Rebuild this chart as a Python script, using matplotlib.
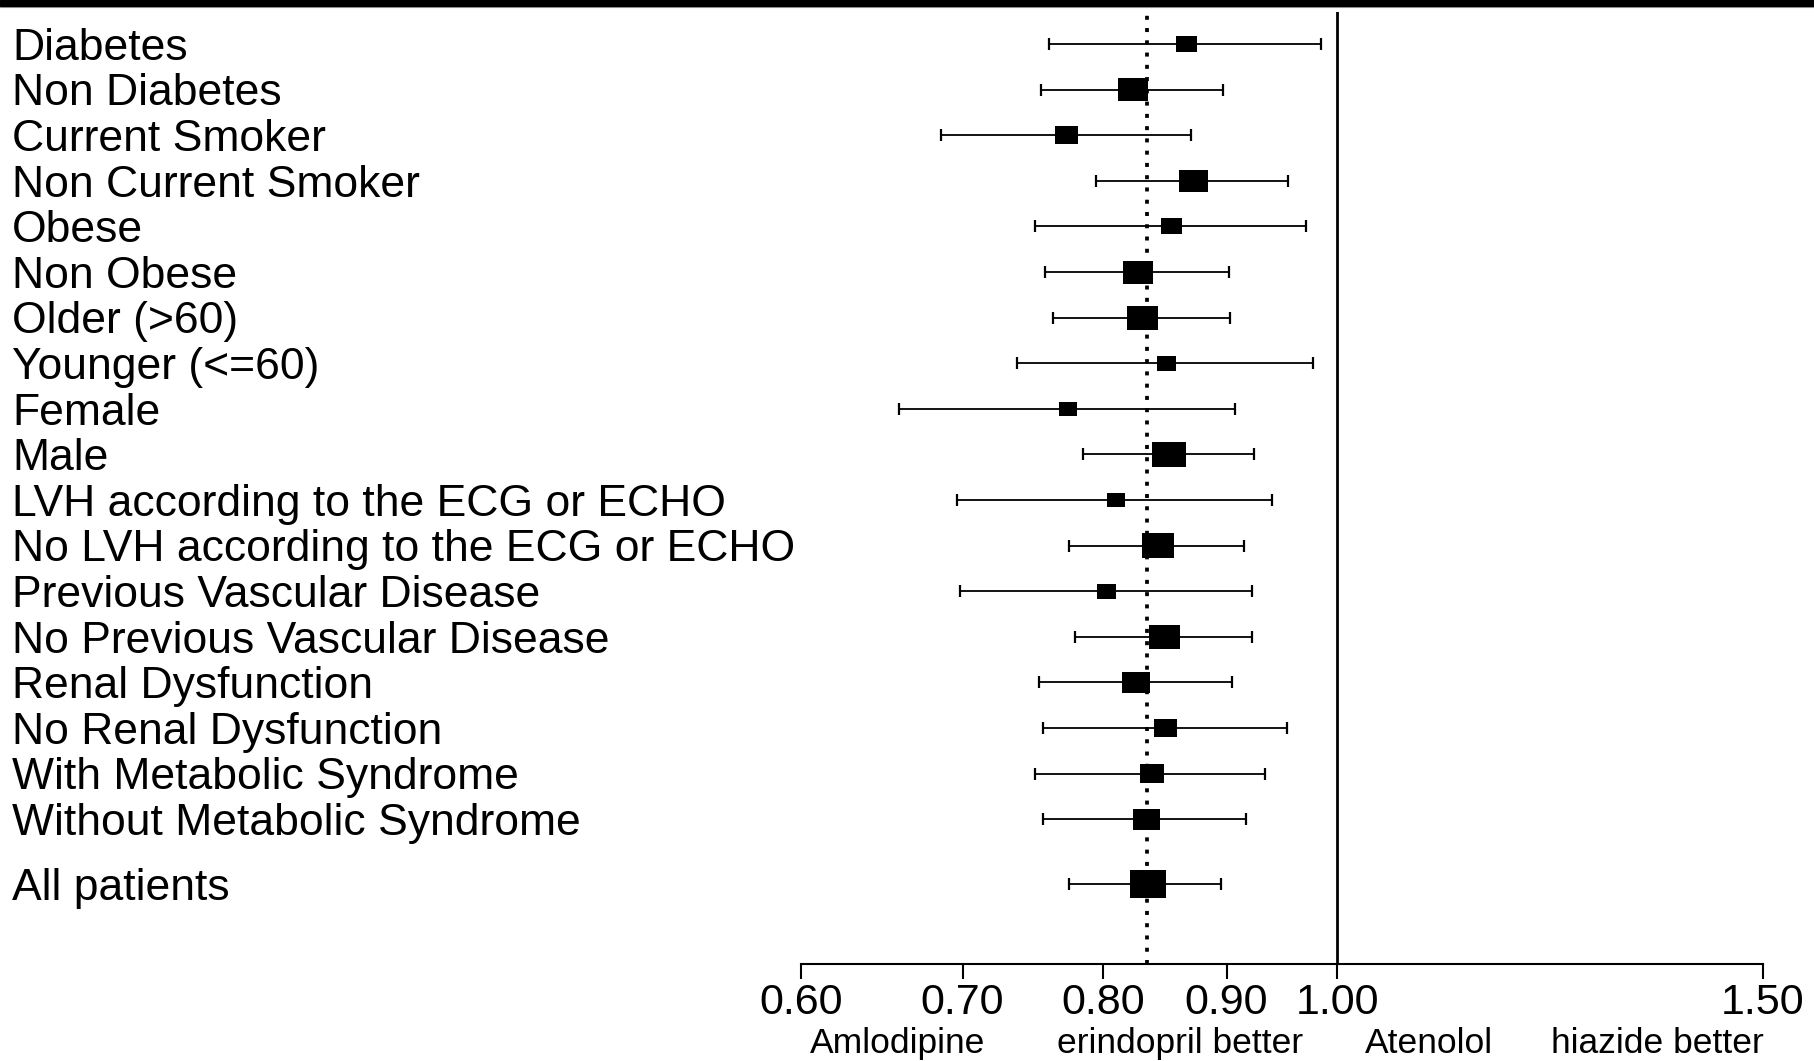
import matplotlib
matplotlib.use("Agg")
import matplotlib.pyplot as plt
import matplotlib.transforms as mtransforms
from matplotlib.path import Path
from matplotlib.patches import Rectangle
from matplotlib.lines import Line2D
import numpy as np

plt.rcParams['font.family'] = ['Liberation Sans', 'DejaVu Sans']

groups = ["Diabetes", "Non Diabetes", "Current Smoker", "Non Current Smoker",
          "Obese", "Non Obese", "Older (>60)", "Younger (<=60)", "Female", "Male",
          "LVH according to the ECG or ECHO", "No LVH according to the ECG or ECHO",
          "Previous Vascular Disease", "No Previous Vascular Disease",
          "Renal Dysfunction", "No Renal Dysfunction",
          "With Metabolic Syndrome", "Without Metabolic Syndrome", "All patients"]
hr = [0.866, 0.823, 0.773, 0.872, 0.854, 0.827, 0.831, 0.850, 0.774, 0.852,
      0.810, 0.843, 0.803, 0.848, 0.826, 0.849, 0.838, 0.834, 0.835]
ci_low = [0.760, 0.754, 0.686, 0.795, 0.750, 0.757, 0.763, 0.737, 0.659, 0.785,
          0.696, 0.775, 0.698, 0.779, 0.753, 0.756, 0.750, 0.756, 0.775]
ci_high = [0.985, 0.897, 0.870, 0.954, 0.971, 0.902, 0.903, 0.977, 0.907, 0.924,
           0.940, 0.915, 0.922, 0.922, 0.905, 0.953, 0.934, 0.917, 0.895]
# relative weight of each subgroup (box size), all patients = 1
weight = [0.58, 0.83, 0.64, 0.81, 0.58, 0.83, 0.86, 0.53, 0.50, 0.92,
          0.50, 0.89, 0.53, 0.86, 0.78, 0.64, 0.67, 0.75, 1.00]
overall_hr = 0.834
ticks = [0.60, 0.70, 0.80, 0.90, 1.00, 1.50]
favour_labels = ["Amlodipine", "erindopril better", "Atenolol", "hiazide better"]


def main():
    W, H = 1814, 1061
    fig = plt.figure(figsize=(W / 100, H / 100), dpi=100)
    ax = fig.add_axes([800.7 / W, 1 - 964 / H, (1763 - 800.7) / W, (964 - 12) / H])

    n = len(groups)
    y = np.arange(n, dtype=float)
    y[-1] = n - 1 + 0.42  # extra gap before the overall row

    hr_a = np.array(hr)
    err = [hr_a - np.array(ci_low), np.array(ci_high) - hr_a]

    ax.axvline(overall_hr, color='black', lw=2.7, linestyle=(0, (1.07, 2.2)),
               dash_capstyle='butt', zorder=1)
    ax.axvline(1.0, color='black', lw=2.0, zorder=1)

    ax.errorbar(hr_a, y, xerr=err, fmt='none', ecolor='black', elinewidth=1.3,
                capsize=4.6, capthick=1.6, zorder=2)

    box = Path([(-1, -0.77), (1, -0.77), (1, 0.77), (-1, 0.77), (-1, -0.77)],
               [Path.MOVETO, Path.LINETO, Path.LINETO, Path.LINETO, Path.CLOSEPOLY])
    ms = np.array(weight) * 36 * 0.72
    ax.scatter(hr_a, y, s=ms ** 2, marker=box, color='black', linewidths=0, zorder=3)

    ax.set_xscale('log')
    ax.set_xlim(0.6, 1.5)
    ax.set_ylim(20.175, -0.702)
    ax.set_xticks(ticks)
    ax.set_xticklabels(["%.2f" % t for t in ticks])
    ax.xaxis.set_minor_locator(matplotlib.ticker.NullLocator())
    ax.set_yticks([])
    ax.tick_params(axis='x', direction='out', length=11, width=1.5, pad=3,
                   labelsize=31)
    for s in ['left', 'top', 'right']:
        ax.spines[s].set_visible(False)
    ax.spines['bottom'].set_linewidth(1.5)

    # group labels on the left
    trans = mtransforms.blended_transform_factory(fig.transFigure, ax.transData)
    trans = mtransforms.offset_copy(trans, fig=fig, y=-11.4, units='points')
    for yi, g in zip(y, groups):
        ax.text(12 / W, yi, g, transform=trans, fontsize=32, ha='left',
                va='baseline', clip_on=False)

    # favour labels under the axis (centres in pixels)
    for px, t in zip([898, 1180, 1429, 1657], favour_labels):
        fig.text(px / W, 1 - 1053 / H, t, fontsize=25.5, ha='center', va='baseline')

    # dark band at the very top
    fig.patches.append(Rectangle((0, 1 - 6 / H), 1, 6 / H, transform=fig.transFigure,
                                 color='black', zorder=5))
    fig.add_artist(Line2D([0, 1], [1 - 7 / H, 1 - 7 / H], color='0.7', lw=0.8))

    fig.savefig("out.png", dpi=100)


if __name__ == "__main__":
    main()
